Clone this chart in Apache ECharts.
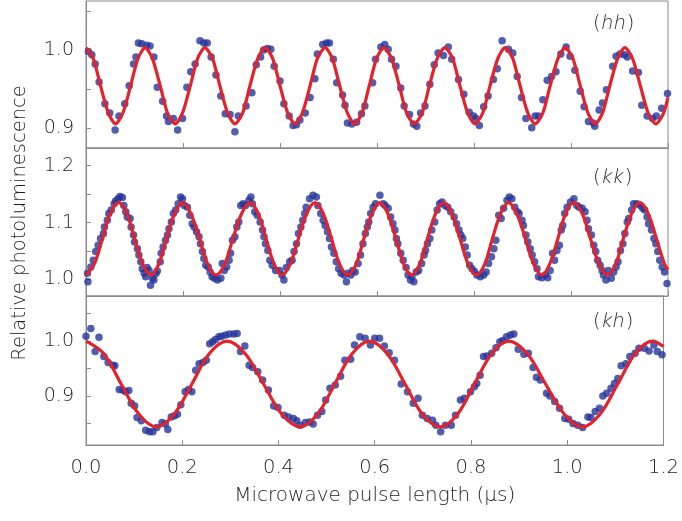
<!DOCTYPE html>
<html>
<head>
<meta charset="utf-8">
<script src="https://cdn.jsdelivr.net/npm/echarts@6/dist/echarts.min.js"></script>
<style>
  html, body { margin: 0; padding: 0; background: #fff; }
  #chart { width: 682px; height: 521px; }
</style>
</head>
<body>
<div id="chart"></div>
<script>
// Measured photoluminescence (x: pulse length in µs, y: relative PL)
const hhDots = [[0.005,0.998],[0.012,0.994],[0.019,0.982],[0.027,0.959],[0.039,0.931],[0.049,0.919],[0.060,0.897],[0.068,0.915],[0.080,0.931],[0.089,0.954],[0.098,0.982],[0.103,0.991],[0.108,1.009],[0.115,1.008],[0.125,1.006],[0.132,1.005],[0.140,0.991],[0.147,0.952],[0.158,0.934],[0.166,0.915],[0.170,0.908],[0.180,0.912],[0.189,0.897],[0.199,0.912],[0.208,0.952],[0.216,0.972],[0.225,0.982],[0.235,1.012],[0.243,1.009],[0.250,1.009],[0.258,0.991],[0.268,0.968],[0.278,0.941],[0.287,0.918],[0.297,0.917],[0.307,0.895],[0.314,0.915],
[0.330,0.928],[0.342,0.945],[0.351,0.981],[0.360,0.991],[0.366,1.000],[0.374,1.002],[0.381,1.001],[0.388,0.979],[0.400,0.960],[0.408,0.931],[0.419,0.915],[0.427,0.903],[0.434,0.904],[0.441,0.910],[0.452,0.919],[0.462,0.939],[0.472,0.963],[0.477,0.995],[0.488,1.007],[0.496,1.009],[0.502,1.009],[0.510,0.988],[0.517,0.958],[0.529,0.942],[0.534,0.929],[0.539,0.906],[0.548,0.905],[0.558,0.907],[0.568,0.918],[0.575,0.928],[0.591,0.958],[0.597,0.988],[0.608,1.004],[0.616,1.007],[0.623,1.001],[0.630,0.988],[0.639,0.979],[0.649,0.951],[0.656,0.928],[0.667,0.917],[0.675,0.905],[0.682,0.902],[0.690,0.919],[0.699,0.928],[0.709,0.956],[0.718,0.981],[0.726,0.996],[0.737,0.993],[0.747,1.004],[0.754,0.988],[0.768,0.962],
[0.779,0.943],[0.790,0.920],[0.799,0.915],[0.804,0.912],[0.811,0.903],[0.820,0.927],[0.829,0.941],[0.840,0.962],[0.848,0.976],[0.858,1.012],[0.871,1.001],[0.880,0.996],[0.889,0.966],[0.898,0.939],[0.907,0.912],[0.919,0.900],[0.926,0.915],[0.933,0.915],[0.942,0.936],[0.951,0.961],[0.960,0.966],[0.969,0.972],[0.979,0.995],[0.990,1.004],[0.998,0.992],[1.008,0.974],[1.019,0.947],[1.027,0.927],[1.036,0.908],[1.046,0.906],[1.049,0.902],[1.058,0.923],[1.065,0.932],[1.073,0.949],[1.086,0.979],[1.093,0.992],[1.101,0.995],[1.110,0.994],[1.116,0.991],[1.127,0.973],[1.139,0.971],[1.146,0.929],[1.157,0.915],[1.168,0.912],[1.176,0.915],[1.187,0.925],[1.199,0.944]];

const hhFit = [[0,1.003],[0.015,0.989],[0.030,0.954],[0.046,0.919],[0.061,0.905],
[0.076,0.919],[0.092,0.954],[0.107,0.989],[0.122,1.003],
[0.137,0.989],[0.153,0.954],[0.168,0.919],[0.184,0.905],
[0.199,0.919],[0.215,0.954],[0.230,0.989],[0.245,1.003],
[0.261,0.989],[0.276,0.954],[0.292,0.919],[0.307,0.905],
[0.323,0.919],[0.338,0.954],[0.354,0.989],[0.369,1.003],
[0.385,0.989],[0.400,0.954],[0.416,0.919],[0.431,0.905],
[0.446,0.919],[0.462,0.954],[0.477,0.989],[0.493,1.003],
[0.508,0.989],[0.523,0.954],[0.539,0.919],[0.554,0.905],
[0.569,0.919],[0.584,0.954],[0.599,0.989],[0.614,1.003],
[0.630,0.989],[0.646,0.954],[0.661,0.919],[0.677,0.905],
[0.693,0.919],[0.708,0.954],[0.724,0.989],[0.740,1.003],
[0.756,0.989],[0.771,0.954],[0.787,0.919],[0.802,0.905],
[0.818,0.919],[0.833,0.954],[0.849,0.989],[0.864,1.003],
[0.880,0.989],[0.895,0.954],[0.911,0.919],[0.926,0.905],
[0.942,0.919],[0.957,0.954],[0.973,0.989],[0.988,1.003],
[1.004,0.989],[1.019,0.954],[1.035,0.919],[1.050,0.905],
[1.065,0.919],[1.080,0.954],[1.096,0.989],[1.111,1.003],
[1.127,0.989],[1.143,0.954],[1.159,0.919],[1.175,0.905],
[1.191,0.919],[1.200,0.939]];

const kkDots = [[0.003,1.011],[0.004,0.996],[0.010,1.022],[0.015,1.034],[0.020,1.049],[0.025,1.060],[0.030,1.072],[0.036,1.081],[0.038,1.092],[0.044,1.104],[0.047,1.116],[0.052,1.122],[0.058,1.133],[0.061,1.138],[0.066,1.142],[0.070,1.146],[0.075,1.144],[0.078,1.130],[0.082,1.119],[0.085,1.110],[0.091,1.107],[0.093,1.092],[0.098,1.078],[0.100,1.066],[0.106,1.054],[0.109,1.043],[0.113,1.031],[0.116,1.019],[0.120,1.011],[0.123,1.005],[0.126,1.021],[0.130,1.016],[0.133,0.990],[0.137,1.002],[0.140,0.999],[0.144,1.010],[0.147,1.015],[0.153,1.031],[0.155,1.046],[0.159,1.057],[0.164,1.069],[0.168,1.078],[0.171,1.089],[0.176,1.101],[0.180,1.116],[0.185,1.122],[0.190,1.133],[0.195,1.145],[0.199,1.142],[0.203,1.130],[0.209,1.127],[0.214,1.113],[0.219,1.098],[0.223,1.092],[0.228,1.084],[0.233,1.075],[0.236,1.063],[0.240,1.049],[0.243,1.037],[0.247,1.025],[0.252,1.022],[0.256,1.013],[0.260,1.005],[0.265,1.002],[0.271,0.999],[0.278,1.002],[0.281,1.028],[0.285,1.016],[0.290,1.022],[0.295,1.034],[0.298,1.046],[0.302,1.069],[0.307,1.075],[0.311,1.092],[0.315,1.101],[0.319,1.130],[0.324,1.133],[0.329,1.130],[0.336,1.139],[0.340,1.145],[0.343,1.133],[0.348,1.119],[0.353,1.113],[0.359,1.101],[0.364,1.087],[0.367,1.075],[0.370,1.063],[0.375,1.051],[0.379,1.034],[0.384,1.025],[0.391,1.016],
[0.399,1.016],[0.404,1.008],[0.408,0.999],[0.413,1.021],[0.420,1.031],[0.425,1.034],[0.429,1.049],[0.434,1.063],[0.438,1.081],[0.443,1.092],[0.447,1.104],[0.451,1.116],[0.454,1.127],[0.461,1.142],[0.468,1.148],[0.475,1.145],[0.478,1.130],[0.484,1.116],[0.489,1.104],[0.493,1.095],[0.498,1.084],[0.502,1.072],[0.506,1.057],[0.511,1.046],[0.516,1.031],[0.521,1.019],[0.526,1.011],[0.532,1.008],[0.537,0.996],[0.540,1.011],[0.546,1.008],[0.550,1.016],[0.555,1.013],[0.561,1.028],[0.566,1.043],[0.571,1.063],[0.576,1.081],[0.580,1.092],[0.583,1.101],[0.587,1.116],[0.592,1.127],[0.597,1.133],[0.606,1.148],[0.613,1.133],[0.617,1.130],[0.623,1.125],[0.628,1.110],[0.633,1.098],[0.637,1.087],[0.640,1.072],[0.643,1.063],[0.649,1.046],[0.654,1.034],[0.660,1.021],[0.664,1.008],[0.669,0.999],[0.672,1.005],[0.676,0.996],[0.681,1.013],[0.686,1.016],[0.692,1.028],[0.697,1.043],[0.700,1.051],[0.704,1.063],[0.709,1.072],[0.713,1.087],[0.719,1.101],[0.724,1.122],[0.729,1.133],[0.734,1.136],[0.740,1.130],[0.746,1.127],[0.752,1.119],[0.759,1.110],[0.764,1.098],[0.769,1.087],[0.773,1.078],[0.777,1.072],[0.782,1.057],[0.786,1.043],[0.791,1.025],[0.796,1.019],
[0.801,1.014],[0.806,1.008],[0.813,1.005],[0.820,1.008],[0.825,1.013],[0.830,1.028],[0.836,1.040],[0.841,1.054],[0.845,1.069],[0.851,1.113],[0.856,1.107],[0.861,1.125],[0.868,1.139],[0.873,1.145],[0.878,1.142],[0.884,1.127],[0.889,1.119],[0.893,1.116],[0.899,1.104],[0.902,1.095],[0.907,1.078],[0.911,1.066],[0.916,1.054],[0.920,1.043],[0.925,1.031],[0.930,1.019],[0.933,1.005],[0.940,1.003],[0.947,1.008],[0.952,1.003],[0.957,1.016],[0.962,1.046],[0.966,1.034],[0.971,1.051],[0.976,1.060],[0.980,1.087],[0.983,1.095],[0.987,1.116],[0.992,1.127],[0.999,1.136],[1.006,1.142],[1.012,1.130],[1.017,1.127],[1.023,1.125],[1.029,1.119],[1.033,1.104],[1.036,1.089],[1.042,1.078],[1.047,1.060],[1.051,1.049],[1.055,1.034],[1.060,1.025],[1.064,1.016],[1.067,1.008],[1.072,0.999],[1.077,1.016],[1.083,1.002],[1.088,1.013],[1.093,1.022],[1.097,1.031],[1.102,1.051],[1.107,1.063],[1.111,1.081],[1.116,1.101],[1.119,1.107],[1.125,1.122],[1.129,1.133],[1.136,1.133],[1.143,1.130],[1.148,1.125],[1.152,1.122],[1.157,1.110],[1.160,1.098],[1.166,1.087],[1.171,1.072],[1.175,1.063],[1.179,1.049],[1.183,1.034],[1.188,1.022],[1.193,1.013],[1.198,0.993]];

const kkFit = [[0,1.008],[0.017,1.027],[0.034,1.072],[0.050,1.116],[0.067,1.135],
[0.084,1.116],[0.100,1.072],[0.117,1.027],[0.133,1.008],
[0.150,1.027],[0.166,1.072],[0.183,1.116],[0.199,1.135],
[0.216,1.116],[0.234,1.072],[0.251,1.027],[0.268,1.008],
[0.286,1.027],[0.303,1.072],[0.321,1.116],[0.338,1.135],
[0.355,1.116],[0.371,1.072],[0.388,1.027],[0.404,1.008],
[0.421,1.027],[0.438,1.072],[0.455,1.116],[0.472,1.135],
[0.489,1.116],[0.506,1.072],[0.523,1.027],[0.540,1.008],
[0.557,1.027],[0.573,1.072],[0.590,1.116],[0.606,1.135],
[0.622,1.116],[0.639,1.072],[0.655,1.027],[0.671,1.008],
[0.688,1.027],[0.704,1.072],[0.721,1.116],[0.737,1.135],
[0.754,1.116],[0.771,1.072],[0.788,1.027],[0.805,1.008],
[0.822,1.027],[0.838,1.072],[0.855,1.116],[0.871,1.135],
[0.888,1.116],[0.906,1.072],[0.923,1.027],[0.940,1.008],
[0.956,1.027],[0.973,1.072],[0.989,1.116],[1.005,1.135],
[1.023,1.116],[1.040,1.072],[1.058,1.027],[1.075,1.008],
[1.092,1.027],[1.108,1.072],[1.125,1.116],[1.142,1.135],
[1.159,1.116],[1.176,1.072],[1.193,1.027],[1.200,1.017]];

const khDots = [[0.000,1.009],[0.010,1.023],[0.019,0.981],[0.027,1.007],[0.037,0.972],[0.046,0.961],[0.056,0.956],[0.060,0.955],[0.069,0.912],[0.076,0.911],[0.082,0.908],[0.089,0.910],[0.094,0.887],[0.101,0.882],[0.106,0.861],[0.115,0.855],[0.124,0.838],[0.132,0.835],[0.139,0.835],[0.147,0.843],[0.158,0.852],[0.165,0.849],[0.170,0.839],[0.177,0.862],[0.184,0.864],[0.190,0.867],[0.197,0.884],[0.206,0.908],[0.213,0.912],[0.220,0.908],[0.228,0.947],[0.235,0.959],[0.243,0.961],[0.250,0.965],[0.257,0.995],[0.263,0.999],[0.269,1.003],[0.276,1.008],[0.282,1.009],[0.290,1.011],[0.298,1.013],[0.307,1.013],[0.314,1.014],
[0.321,0.981],[0.330,0.991],[0.339,0.956],[0.346,0.952],[0.357,0.944],[0.367,0.929],[0.379,0.911],[0.390,0.882],[0.399,0.879],[0.412,0.865],[0.421,0.862],[0.431,0.859],[0.438,0.855],[0.445,0.847],[0.456,0.852],[0.465,0.853],[0.472,0.849],[0.481,0.865],[0.490,0.872],[0.498,0.893],[0.507,0.914],[0.518,0.920],[0.529,0.936],[0.538,0.965],[0.550,0.967],[0.558,0.993],[0.569,1.008],[0.580,1.005],[0.591,0.993],[0.600,1.005],[0.610,1.005],[0.620,0.991],[0.630,0.979],[0.641,0.965],[0.655,0.922],[0.668,0.908],[0.680,0.887],[0.690,0.896],[0.699,0.865],[0.709,0.859],[0.720,0.856],[0.727,0.847],[0.737,0.835],[0.747,0.847],[0.759,0.847],[0.768,0.865],
[0.778,0.893],[0.786,0.896],[0.799,0.908],[0.807,0.917],[0.812,0.923],[0.819,0.938],[0.826,0.972],[0.833,0.973],[0.843,0.978],[0.852,0.988],[0.860,0.999],[0.866,1.001],[0.874,1.008],[0.882,1.011],[0.889,1.013],[0.898,0.985],[0.910,0.976],[0.919,0.978],[0.929,0.952],[0.936,0.934],[0.944,0.929],[0.957,0.905],[0.964,0.900],[0.974,0.890],[0.984,0.878],[0.995,0.859],[1.003,0.858],[1.012,0.850],[1.022,0.847],[1.032,0.843],[1.043,0.862],[1.049,0.861],[1.058,0.872],[1.067,0.878],[1.074,0.900],[1.082,0.905],[1.091,0.914],[1.098,0.923],[1.105,0.932],[1.112,0.955],[1.122,0.959],[1.130,0.972],[1.141,0.978],[1.149,0.987],[1.160,0.987],[1.170,0.982],[1.180,0.993],[1.187,0.981],[1.197,0.975]];

const khFit = [[0,1.000],[0.037,0.977],[0.073,0.922],[0.110,0.867],[0.146,0.844],
[0.183,0.867],[0.220,0.922],[0.256,0.977],[0.293,1.000],
[0.331,0.977],[0.369,0.922],[0.407,0.867],[0.445,0.844],
[0.481,0.867],[0.517,0.922],[0.553,0.977],[0.589,1.000],
[0.626,0.977],[0.663,0.922],[0.699,0.867],[0.736,0.844],
[0.772,0.867],[0.807,0.922],[0.843,0.977],[0.878,1.000],
[0.917,0.977],[0.955,0.922],[0.994,0.867],[1.032,0.844],
[1.068,0.867],[1.105,0.922],[1.141,0.977],[1.177,1.000],
[1.200,0.990]];

// Axis ranges and tick positions for the three panels
const xTicks = [0, 0.2, 0.4, 0.6, 0.8, 1.0, 1.2];
const hhRange = [0.874, 1.063];
const hhLabels = [0.9, 1.0];
const hhTicks = [0.9, 0.95, 1.0, 1.05];
const kkRange = [0.971, 1.231];
const kkLabels = [1.0, 1.1, 1.2];
const kkTicks = [1.0, 1.05, 1.1, 1.15, 1.2];
const khRange = [0.811, 1.082];
const khLabels = [0.9, 1.0];
const khTicks = [0.85, 0.9, 0.95, 1.0, 1.05];
const panelNames = ['hh', 'kk', 'kh'];

const FONT = '"DejaVu Sans", "Open Sans", sans-serif';
const GRAY = '#8a8a8a';
const TEXT = '#1e1e1e';
const DOT = '#25359a';
const RED = '#e3222b';

const grids = [
  { left: 86, right: 14, top: 1, height: 147 },
  { left: 86, right: 14, top: 148, height: 148 },
  { left: 86, right: 14, top: 296, height: 149 }
].map(g => Object.assign(g, { show: true, borderColor: GRAY, borderWidth: 1, backgroundColor: 'transparent' }));

function xAxis(i) {
  const bottom = i === 2;
  return {
    type: 'value', gridIndex: i, min: 0, max: 1.2, interval: 0.2,
    axisLine: { show: true, lineStyle: { color: GRAY, width: 1 } },
    axisTick: { show: true, inside: true, length: 5, lineStyle: { color: GRAY, width: 1 }, customValues: xTicks },
    axisLabel: { show: bottom, margin: 13, fontSize: 19.5, color: TEXT, fontFamily: FONT, fontWeight: 300,
      customValues: xTicks, formatter: v => v.toFixed(1) },
    splitLine: { show: false },
    name: bottom ? 'Microwave pulse length (μs)' : '',
    nameLocation: 'middle', nameGap: 41,
    nameTextStyle: { fontSize: 20, color: TEXT, fontFamily: FONT, fontWeight: 300 }
  };
}

function yAxis(i, range, labels, ticks) {
  return {
    type: 'value', gridIndex: i, min: range[0], max: range[1],
    axisLine: { show: true, lineStyle: { color: GRAY, width: 1 } },
    axisTick: { show: true, inside: true, length: 5, lineStyle: { color: GRAY, width: 1 }, customValues: ticks },
    axisLabel: { show: true, margin: 12, fontSize: 19, color: TEXT, fontFamily: FONT, fontWeight: 300,
      customValues: labels, formatter: v => v.toFixed(1) },
    splitLine: { show: false }
  };
}

function dots(i, data) {
  return { type: 'scatter', xAxisIndex: i, yAxisIndex: i, data: data,
    symbol: 'circle', symbolSize: 7.5, itemStyle: { color: DOT }, z: 2, silent: true };
}
function fit(i, data, smooth) {
  return { type: 'line', xAxisIndex: i, yAxisIndex: i, data: data, smooth: smooth,
    showSymbol: false, lineStyle: { color: RED, width: 3.2 }, z: 3, silent: true };
}

const chart = echarts.init(document.getElementById('chart'), null, { renderer: 'canvas' });
chart.setOption({
  animation: false,
  backgroundColor: '#ffffff',
  grid: grids,
  xAxis: [xAxis(0), xAxis(1), xAxis(2)],
  yAxis: [yAxis(0, hhRange, hhLabels, hhTicks), yAxis(1, kkRange, kkLabels, kkTicks), yAxis(2, khRange, khLabels, khTicks)],
  series: [
    dots(0, hhDots), fit(0, hhFit, 0.25),
    dots(1, kkDots), fit(1, kkFit, 0.35),
    dots(2, khDots), fit(2, khFit, 0.35)
  ],
  graphic: [
    { type: 'text', x: 20, y: 223, rotation: Math.PI / 2,
      style: { text: 'Relative photoluminescence', fontSize: 19.5, fill: TEXT, fontFamily: FONT, fontWeight: 300,
        textAlign: 'center', textVerticalAlign: 'middle' } }
  ]
});

// Panel tags: upright parentheses around thin slanted letters
const LABEL_FONT = '300 19.5px ' + FONT;
const measure = document.createElement('canvas').getContext('2d');
measure.font = LABEL_FONT;
const panelLabelY = [24, 178, 322];
const zr = chart.getZr();
panelNames.forEach((n, i) => {
  const y = panelLabelY[i];
  const left = 593;
  const wParen = measure.measureText('(').width;
  const wName = measure.measureText(n).width;
  const base = { fill: TEXT, font: LABEL_FONT, verticalAlign: 'middle', align: 'left' };
  zr.add(new echarts.graphic.Text({ x: left, y: y, style: Object.assign({ text: '(' }, base), silent: true, z: 10 }));
  zr.add(new echarts.graphic.Text({ x: left + wParen + 0.5, y: y, skewX: -0.2,
    style: Object.assign({ text: n }, base), silent: true, z: 10 }));
  zr.add(new echarts.graphic.Text({ x: left + wParen + wName + 1.5, y: y, style: Object.assign({ text: ')' }, base), silent: true, z: 10 }));
});
</script>
</body>
</html>
